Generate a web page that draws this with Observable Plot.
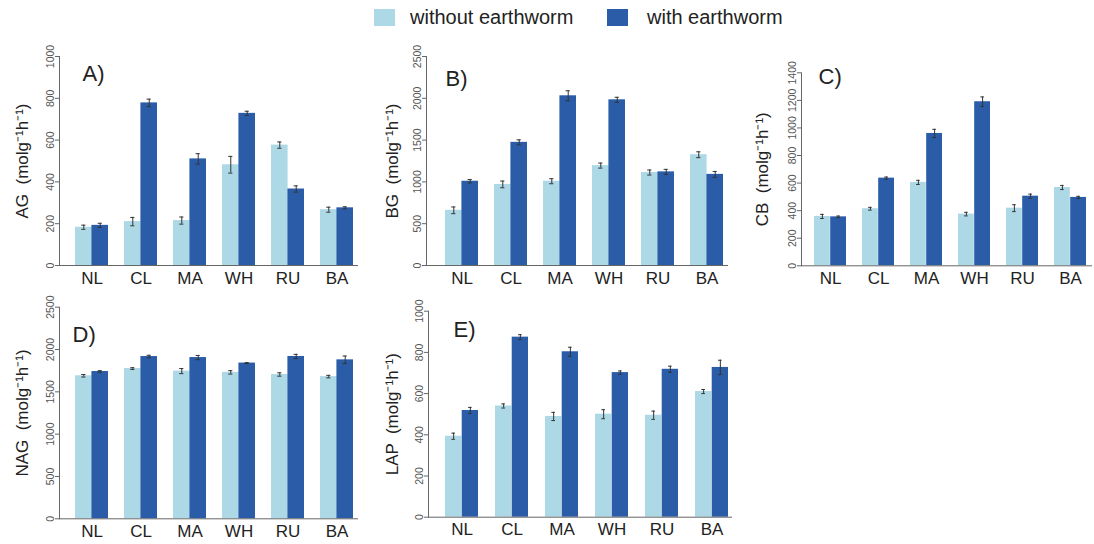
<!DOCTYPE html>
<html>
<head>
<meta charset="utf-8">
<script src="https://cdn.jsdelivr.net/npm/d3@7"></script>
<script src="https://cdn.jsdelivr.net/npm/@observablehq/plot@0.6"></script>
<style>
  html, body { margin: 0; padding: 0; background: #fff; }
  #root { position: relative; width: 1094px; height: 544px; overflow: hidden; font-family: "Liberation Sans", Arial, sans-serif; }
  .legend { position: absolute; top: 0; left: 0; width: 1094px; height: 40px; font-size: 20px; color: #222; }
  .legend .sw { position: absolute; width: 21px; height: 17px; top: 9px; }
  .legend .lbl { position: absolute; top: 6px; white-space: nowrap; }
  .panel { position: absolute; }
</style>
</head>
<body>
<div id="root">
  <div class="legend" id="legend"></div>
</div>
<script>
// ---------- data ----------
const categories = ["NL", "CL", "MA", "WH", "RU", "BA"];
const seriesNames = ["without earthworm", "with earthworm"];
const seriesColors = ["#ADD8E6", "#2A5CA8"];

const agWithout   = [183, 210, 215, 482, 576, 267];
const agWithoutSE = [10, 20, 17, 40, 15, 12];
const agWith      = [192, 778, 510, 728, 366, 276];
const agWithSE    = [10, 18, 25, 10, 15, 5];

const bgWithout   = [660, 970, 1008, 1195, 1112, 1325];
const bgWithoutSE = [40, 40, 30, 30, 30, 35];
const bgWith      = [1008, 1473, 2030, 1982, 1120, 1090];
const bgWithSE    = [20, 30, 60, 30, 30, 35];

const cbWithout   = [358, 414, 605, 375, 418, 568];
const cbWithoutSE = [15, 10, 15, 13, 25, 15];
const cbWith      = [355, 636, 960, 1190, 505, 496];
const cbWithSE    = [6, 8, 30, 35, 15, 8];

const nagWithout   = [1690, 1775, 1745, 1730, 1705, 1680];
const nagWithoutSE = [15, 10, 30, 20, 20, 15];
const nagWith      = [1740, 1917, 1905, 1840, 1918, 1878];
const nagWithSE    = [10, 15, 25, 5, 25, 45];

const lapWithout   = [393, 540, 489, 500, 495, 610];
const lapWithoutSE = [15, 10, 20, 22, 20, 10];
const lapWith      = [518, 874, 803, 702, 718, 727];
const lapWithSE    = [15, 12, 22, 8, 15, 35];

const agTicks  = [0, 200, 400, 600, 800, 1000];
const bgTicks  = [0, 500, 1000, 1500, 2000, 2500];
const cbTicks  = [0, 200, 400, 600, 800, 1000, 1200, 1400];
const nagTicks = [0, 500, 1000, 1500, 2000, 2500];
const lapTicks = [0, 200, 400, 600, 800, 1000];

const panelTags = ["A)", "B)", "C)", "D)", "E)"];
const enzymeNames = ["AG", "BG", "CB", "NAG", "LAP"];
const unitText = "  (molg\u207B\u00B9h\u207B\u00B9)";

// ---------- layout (page pixels) ----------
const layouts = [
  {left: 0,   top: 40,  w: 370, h: 250, axis: 59,  yTop: 56,    yBot: 265,   b0: 74,    b1: 353,  rEnd: 358, tagDx: 23, tagDy: 17},
  {left: 370, top: 40,  w: 370, h: 250, axis: 426, yTop: 56,    yBot: 265,   b0: 444,   b1: 723,  rEnd: 728, tagDx: 19, tagDy: 22},
  {left: 740, top: 40,  w: 354, h: 250, axis: 801, yTop: 72.3,  yBot: 265.3, b0: 812.7, b1: 1088, rEnd: 1092, tagDx: 17, tagDy: 4},
  {left: 0,   top: 290, w: 370, h: 254, axis: 59,  yTop: 306.7, yBot: 518.3, b0: 74,    b1: 353,  rEnd: 358, tagDx: 13, tagDy: 28},
  {left: 370, top: 290, w: 370, h: 254, axis: 428, yTop: 310.7, yBot: 516.7, b0: 445,   b1: 729,  rEnd: 732, tagDx: 25, tagDy: 19}
];

const panelData = [
  [agWithout, agWithoutSE, agWith, agWithSE, agTicks],
  [bgWithout, bgWithoutSE, bgWith, bgWithSE, bgTicks],
  [cbWithout, cbWithoutSE, cbWith, cbWithSE, cbTicks],
  [nagWithout, nagWithoutSE, nagWith, nagWithSE, nagTicks],
  [lapWithout, lapWithoutSE, lapWith, lapWithSE, lapTicks]
];

// ---------- legend ----------
const legend = document.getElementById("legend");
[[374, 410], [607, 647]].forEach(([sx, tx], i) => {
  const sw = document.createElement("div");
  sw.className = "sw"; sw.style.left = sx + "px"; sw.style.background = seriesColors[i];
  const lb = document.createElement("div");
  lb.className = "lbl"; lb.style.left = tx + "px"; lb.textContent = seriesNames[i];
  legend.appendChild(sw); legend.appendChild(lb);
});

// ---------- panels ----------
const root = document.getElementById("root");
panelData.forEach(([wo, woSE, wi, wiSE, ticks], p) => {
  const L = layouts[p];
  const unit = (L.b1 - L.b0) / 17;
  const rows = [];
  categories.forEach((c, i) => {
    rows.push({cat: c, series: seriesNames[0], value: wo[i], se: woSE[i]});
    rows.push({cat: c, series: seriesNames[1], value: wi[i], se: wiSE[i]});
  });
  const rWo = rows.filter(d => d.series === seriesNames[0]);
  const rWi = rows.filter(d => d.series === seriesNames[1]);
  const capHalf = 2;
  const errColor = "#333";

  const chart = Plot.plot({
    width: L.w,
    height: L.h,
    marginLeft: L.axis - L.left,
    marginRight: L.left + L.w - L.rEnd,
    marginTop: L.yTop - L.top,
    marginBottom: L.top + L.h - L.yBot,
    style: {fontFamily: "Liberation Sans, Arial, sans-serif", background: "transparent", overflow: "visible"},
    x: {type: "band", domain: categories, paddingInner: 1/3, paddingOuter: 1/6,
        range: [L.b0 - L.left - unit / 2, L.b1 - L.left + unit / 2], label: null},
    y: {domain: [0, ticks[ticks.length - 1]], label: null},
    color: {domain: seriesNames, range: seriesColors},
    marks: [
      Plot.barY(rWo, {x: "cat", y: "value", fill: "series", insetRight: unit}),
      Plot.barY(rWi, {x: "cat", y: "value", fill: "series", insetLeft: unit}),
      Plot.ruleX(rWo, {x: "cat", y1: d => d.value - d.se, y2: d => d.value + d.se, dx: -unit / 2, stroke: errColor, strokeWidth: 1}),
      Plot.ruleX(rWi, {x: "cat", y1: d => d.value - d.se, y2: d => d.value + d.se, dx: unit / 2, stroke: errColor, strokeWidth: 1}),
      Plot.tickY(rWo, {x: "cat", y: d => d.value - d.se, insetLeft: unit / 2 - capHalf, insetRight: 1.5 * unit - capHalf, stroke: errColor, strokeWidth: 1}),
      Plot.tickY(rWo, {x: "cat", y: d => d.value + d.se, insetLeft: unit / 2 - capHalf, insetRight: 1.5 * unit - capHalf, stroke: errColor, strokeWidth: 1}),
      Plot.tickY(rWi, {x: "cat", y: d => d.value - d.se, insetLeft: 1.5 * unit - capHalf, insetRight: unit / 2 - capHalf, stroke: errColor, strokeWidth: 1}),
      Plot.tickY(rWi, {x: "cat", y: d => d.value + d.se, insetLeft: 1.5 * unit - capHalf, insetRight: unit / 2 - capHalf, stroke: errColor, strokeWidth: 1}),
      Plot.ruleY([0], {stroke: "#666", strokeWidth: 1}),
      Plot.frame({anchor: "left", stroke: "#666", strokeWidth: 1}),
      Plot.axisY({ticks: ticks, tickFormat: d => String(d), tickRotate: -90, tickSize: 4, tickPadding: 2,
                  fontSize: 10.5, color: "#555", stroke: "#666", label: null}),
      Plot.axisX({tickSize: 0, tickPadding: 6, fontSize: 17, color: "#222", label: null}),
      Plot.text([enzymeNames[p] + unitText], {frameAnchor: "left", rotate: -90, dx: -(L.axis - L.left) + 22,
                  fontSize: 17, fill: "#222", textAnchor: "middle", lineAnchor: "middle"}),
      Plot.text([panelTags[p]], {frameAnchor: "top-left", textAnchor: "start", lineAnchor: "middle",
                  dx: L.tagDx, dy: L.tagDy, fontSize: 22, fill: "#222"})
    ]
  });
  chart.classList.add("panel");
  chart.style.left = L.left + "px";
  chart.style.top = L.top + "px";
  root.appendChild(chart);
});
</script>
</body>
</html>
